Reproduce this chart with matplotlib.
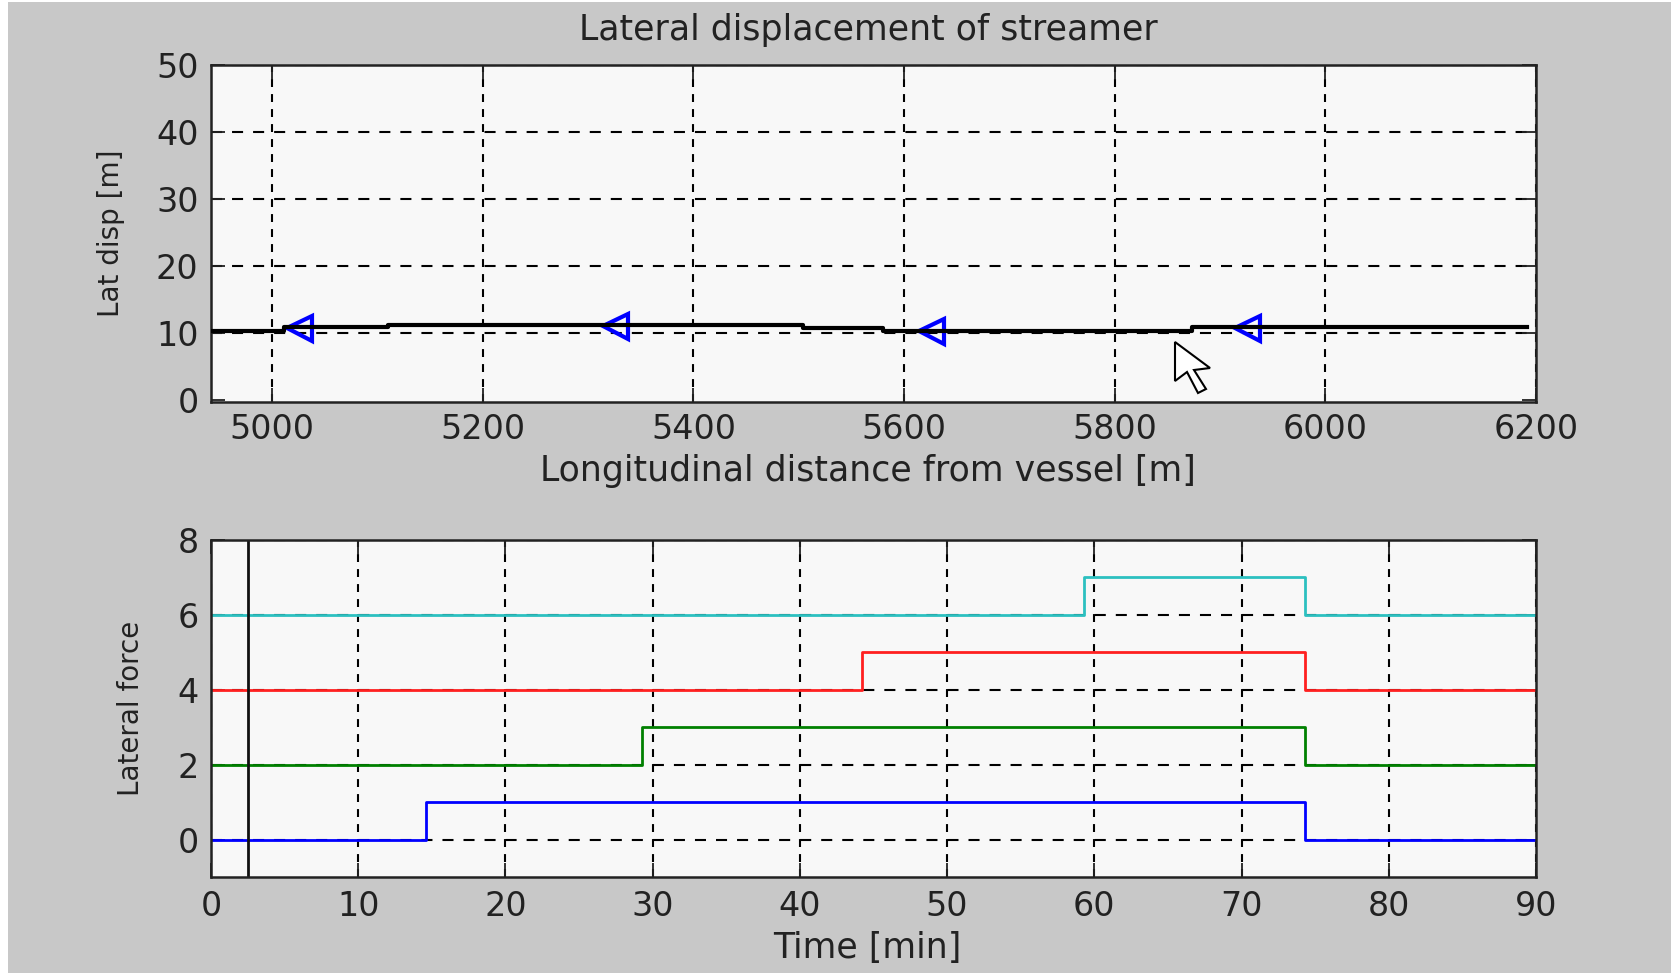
import numpy as np
import matplotlib
matplotlib.use("Agg")
import matplotlib.pyplot as plt
from matplotlib.patches import Rectangle, Polygon
from matplotlib.transforms import IdentityTransform

W, H = 1671, 973

# top plot, streamer position (stepped)
stream_x = [4942, 5011, 5110, 5504, 5580, 5873, 6191]
stream_y = [10.3, 10.9, 11.3, 10.85, 10.4, 10.9, 10.9]
bird_x = [5026, 5326, 5626, 5926]
bird_y = [10.8, 11.05, 10.35, 10.8]

# bottom plot, force on each bird
time_edges = [0, 14.6, 29.3, 44.2, 59.3, 74.3, 90]
force_blue = [0, 1, 1, 1, 1, 0, 0]
force_green = [2, 2, 3, 3, 3, 2, 2]
force_red = [4, 4, 4, 5, 5, 4, 4]
force_cyan = [6, 6, 6, 6, 7, 6, 6]
current_time = 2.5

top_xticks = [5000, 5200, 5400, 5600, 5800, 6000, 6200]
top_yticks = [0, 10, 20, 30, 40, 50]
bot_xticks = list(range(0, 91, 10))
bot_yticks = [0, 2, 4, 6, 8]

ink = '#222222'
plt.rcParams['font.family'] = 'DejaVu Sans'
fig = plt.figure(figsize=(W / 100, H / 100), dpi=100, facecolor='white')
# white sliver on the left and top of the screenshot
fig.patches.append(Rectangle((8 / W, 0), (W - 8) / W, (H - 2) / H, transform=fig.transFigure,
                             facecolor='#c8c8c8', edgecolor='none', zorder=-5))


def make_axes(left, top, right, bottom):
    ax = fig.add_axes([left / W, 1 - bottom / H, (right - left) / W, (bottom - top) / H])
    ax.set_facecolor('#f8f8f8')
    ax.xaxis.grid(True, color='black', linestyle=(0, (3.8, 3.4)), linewidth=1.5)
    ax.yaxis.grid(True, color='black', linestyle=(0, (5.3, 4.8)), linewidth=1.5)
    ax.set_axisbelow(True)
    ax.tick_params(direction='in', length=10, width=1.3, labelsize=24, pad=7, colors=ink,
                   top=True, right=True)
    ax.tick_params(axis='y', pad=9)
    for s in ax.spines.values():
        s.set_linewidth(1.8)
        s.set_color(ink)
    return ax


ax1 = make_axes(211, 65, 1536, 402)
ax1.plot(bird_x, bird_y, linestyle='none', marker='<', markersize=18, markerfacecolor='none',
         markeredgecolor='#0000ff', markeredgewidth=3, zorder=4)
ax1.step(stream_x, stream_y, where='post', color='black', linewidth=3, zorder=5)
ax1.set_xlim(4942, 6200)
ax1.set_ylim(-0.25, 50)
ax1.set_xticks(top_xticks)
ax1.set_yticks(top_yticks)
ax1.yaxis.get_gridlines()[0].set_visible(False)
ax1.tick_params(axis='x', pad=8)
ax1.set_title('Lateral displacement of streamer', fontsize=25, pad=18, color=ink, x=0.4965)
ax1.set_xlabel('Longitudinal distance from vessel [m]', fontsize=25, labelpad=6, color=ink, x=0.496)
ax1.set_ylabel('Lat disp [m]', fontsize=20, labelpad=22, color=ink)

ax2 = make_axes(211, 540, 1536, 877)
ax2.step(time_edges, force_blue, where='post', color='#0000ff', linewidth=2)
ax2.step(time_edges, force_green, where='post', color='#008000', linewidth=2)
ax2.step(time_edges, force_red, where='post', color='#ff2020', linewidth=2)
ax2.step(time_edges, force_cyan, where='post', color='#2cc0c0', linewidth=2)
ax2.axvline(current_time, color='#111111', linewidth=2)
ax2.set_xlim(0, 90)
ax2.set_ylim(-1, 8)
ax2.set_xticks(bot_xticks)
ax2.set_yticks(bot_yticks)
ax2.tick_params(axis='x', pad=9)
ax2.set_xlabel('Time [min]', fontsize=25, labelpad=6, color=ink, x=0.495)
ax2.set_ylabel('Lateral force', fontsize=20, labelpad=23, color=ink)

# mouse pointer left in the screenshot
cursor = np.array([[1175, 342], [1210, 368], [1194, 370], [1206, 389], [1198, 393],
                   [1187, 372], [1175, 381]], dtype=float)
cursor[:, 1] = H - cursor[:, 1]
fig.patches.append(Polygon(cursor, closed=True, transform=IdentityTransform(),
                           facecolor='white', edgecolor='black', linewidth=1.5, zorder=10))

fig.savefig('out.png', dpi=100, facecolor=fig.get_facecolor())
